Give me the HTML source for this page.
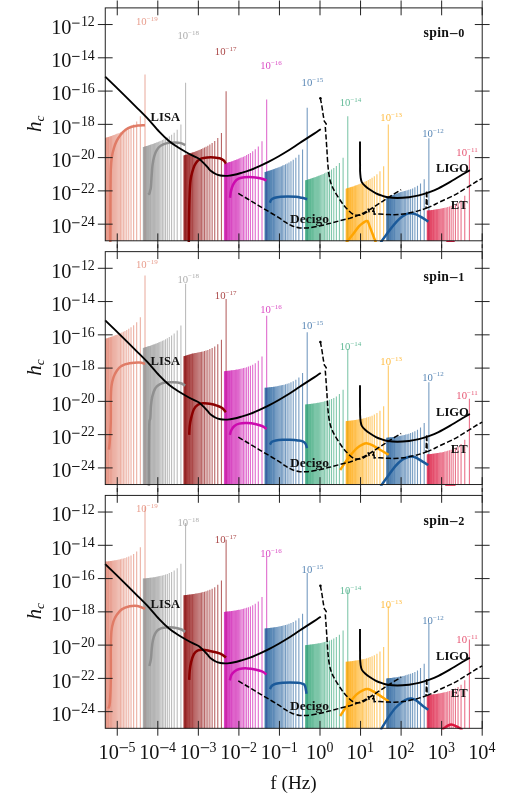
<!DOCTYPE html>
<html><head><meta charset="utf-8"><title>h_c vs f</title>
<style>
html,body{margin:0;padding:0;background:#fff;}
body{width:507px;height:800px;position:relative;overflow:hidden;font-family:"Liberation Serif",serif;}
svg text{font-family:"Liberation Serif",serif;}
#wrap{position:absolute;left:0;top:0;width:507px;height:800px;will-change:transform;transform:translateZ(0);}
.tl{font-size:20.3px;fill:#111;}
.sup{font-size:13.9px;fill:#111;}
.hc{font-size:21px;fill:#111;}
.sub{font-size:13.5px;}
.bl{font-size:10.7px;}
.bsup{font-size:7.0px;}
.nm{font-size:12.6px;font-weight:bold;fill:#111;}
.sp{font-size:13.7px;font-weight:bold;fill:#111;}
.xl{font-size:19.2px;fill:#111;}
</style></head><body>
<div id="wrap">
<svg width="507" height="800" viewBox="0 0 507 800" style="position:absolute;left:0;top:0">
<defs>
<clipPath id="c0"><rect x="105.25" y="7.9" width="376.95" height="232.9"/></clipPath>
<clipPath id="d0"><rect x="104.05" y="6.7" width="379.34999999999997" height="235.3"/></clipPath>
<clipPath id="c1"><rect x="105.25" y="251.65" width="376.95" height="232.9"/></clipPath>
<clipPath id="d1"><rect x="104.05" y="250.45000000000002" width="379.34999999999997" height="235.3"/></clipPath>
<clipPath id="c2"><rect x="105.25" y="495.4" width="376.95" height="232.9"/></clipPath>
<clipPath id="d2"><rect x="104.05" y="494.2" width="379.34999999999997" height="235.3"/></clipPath>
</defs>
<rect width="100%" height="100%" fill="#fff"/>
<g clip-path="url(#c0)">
<g stroke="#E07B66" stroke-opacity="0.6" stroke-width="1.1"><path d="M145.01 241.8V74.55"/><path d="M140.35 241.8V116.27"/><path d="M136.67 241.8V121.43"/><path d="M133.63 241.8V124.38"/><path d="M131.03 241.8V126.41"/><path d="M128.77 241.8V127.93"/><path d="M126.77 241.8V129.14"/><path d="M124.97 241.8V130.13"/><path d="M123.34 241.8V130.97"/><path d="M121.85 241.8V131.69"/><path d="M120.47 241.8V132.32"/><path d="M119.2 241.8V132.88"/><path d="M118.01 241.8V133.39"/><path d="M116.89 241.8V133.85"/><path d="M115.84 241.8V134.26"/><path d="M114.86 241.8V134.65"/><path d="M113.92 241.8V135.01"/><path d="M113.03 241.8V135.34"/><path d="M112.18 241.8V135.64"/><path d="M111.37 241.8V135.93"/><path d="M110.6 241.8V136.21"/><path d="M109.86 241.8V136.46"/><path d="M109.15 241.8V136.71"/><path d="M108.47 241.8V136.94"/><path d="M107.81 241.8V137.16"/><path d="M107.18 241.8V137.37"/><path d="M106.57 241.8V137.57"/><path d="M105.98 241.8V137.76"/><path d="M105.4 241.8V137.94"/><path d="M104.85 241.8V138.12"/><path d="M104.31 241.8V138.29"/><path d="M103.79 241.8V138.45"/><path d="M103.29 241.8V138.61"/><path d="M102.8 241.8V138.76"/></g>
<g stroke="#8f8f8f" stroke-opacity="0.6" stroke-width="1.1"><path d="M185.56 241.8V82.87"/><path d="M180.9 241.8V124.59"/><path d="M177.22 241.8V129.75"/><path d="M174.18 241.8V132.7"/><path d="M171.58 241.8V134.73"/><path d="M169.32 241.8V136.25"/><path d="M167.32 241.8V137.46"/><path d="M165.52 241.8V138.45"/><path d="M163.89 241.8V139.29"/><path d="M162.4 241.8V140.01"/><path d="M161.02 241.8V140.64"/><path d="M159.75 241.8V141.2"/><path d="M158.56 241.8V141.71"/><path d="M157.44 241.8V142.17"/><path d="M156.39 241.8V142.58"/><path d="M155.41 241.8V142.97"/><path d="M154.47 241.8V143.33"/><path d="M153.58 241.8V143.66"/><path d="M152.73 241.8V143.96"/><path d="M151.92 241.8V144.25"/><path d="M151.15 241.8V144.53"/><path d="M150.41 241.8V144.78"/><path d="M149.7 241.8V145.03"/><path d="M149.02 241.8V145.26"/><path d="M148.36 241.8V145.48"/><path d="M147.73 241.8V145.69"/><path d="M147.12 241.8V145.89"/><path d="M146.53 241.8V146.08"/><path d="M145.95 241.8V146.26"/><path d="M145.4 241.8V146.44"/><path d="M144.86 241.8V146.61"/><path d="M144.34 241.8V146.77"/><path d="M143.84 241.8V146.93"/><path d="M143.35 241.8V147.08"/></g>
<g stroke="#8B0000" stroke-opacity="0.6" stroke-width="1.1"><path d="M226.11 241.8V91.19"/><path d="M221.45 241.8V132.91"/><path d="M217.77 241.8V138.07"/><path d="M214.73 241.8V141.02"/><path d="M212.13 241.8V143.05"/><path d="M209.87 241.8V144.57"/><path d="M207.87 241.8V145.78"/><path d="M206.07 241.8V146.77"/><path d="M204.44 241.8V147.61"/><path d="M202.95 241.8V148.33"/><path d="M201.57 241.8V148.96"/><path d="M200.3 241.8V149.52"/><path d="M199.11 241.8V150.03"/><path d="M197.99 241.8V150.49"/><path d="M196.94 241.8V150.9"/><path d="M195.96 241.8V151.29"/><path d="M195.02 241.8V151.65"/><path d="M194.13 241.8V151.98"/><path d="M193.28 241.8V152.28"/><path d="M192.47 241.8V152.57"/><path d="M191.7 241.8V152.85"/><path d="M190.96 241.8V153.1"/><path d="M190.25 241.8V153.35"/><path d="M189.57 241.8V153.58"/><path d="M188.91 241.8V153.8"/><path d="M188.28 241.8V154.01"/><path d="M187.67 241.8V154.21"/><path d="M187.08 241.8V154.4"/><path d="M186.5 241.8V154.58"/><path d="M185.95 241.8V154.76"/><path d="M185.41 241.8V154.93"/><path d="M184.89 241.8V155.09"/><path d="M184.39 241.8V155.25"/><path d="M183.9 241.8V155.4"/></g>
<g stroke="#CC0AAE" stroke-opacity="0.6" stroke-width="1.1"><path d="M266.66 241.8V99.51"/><path d="M262 241.8V141.23"/><path d="M258.32 241.8V146.39"/><path d="M255.28 241.8V149.34"/><path d="M252.68 241.8V151.37"/><path d="M250.42 241.8V152.89"/><path d="M248.42 241.8V154.1"/><path d="M246.62 241.8V155.09"/><path d="M244.99 241.8V155.93"/><path d="M243.5 241.8V156.65"/><path d="M242.12 241.8V157.28"/><path d="M240.85 241.8V157.84"/><path d="M239.66 241.8V158.35"/><path d="M238.54 241.8V158.81"/><path d="M237.49 241.8V159.22"/><path d="M236.51 241.8V159.61"/><path d="M235.57 241.8V159.97"/><path d="M234.68 241.8V160.3"/><path d="M233.83 241.8V160.6"/><path d="M233.02 241.8V160.89"/><path d="M232.25 241.8V161.17"/><path d="M231.51 241.8V161.42"/><path d="M230.8 241.8V161.67"/><path d="M230.12 241.8V161.9"/><path d="M229.46 241.8V162.12"/><path d="M228.83 241.8V162.33"/><path d="M228.22 241.8V162.53"/><path d="M227.63 241.8V162.72"/><path d="M227.05 241.8V162.9"/><path d="M226.5 241.8V163.08"/><path d="M225.96 241.8V163.25"/><path d="M225.44 241.8V163.41"/><path d="M224.94 241.8V163.57"/><path d="M224.45 241.8V163.72"/></g>
<g stroke="#1B5A9A" stroke-opacity="0.6" stroke-width="1.1"><path d="M307.21 241.8V107.83"/><path d="M302.55 241.8V149.55"/><path d="M298.87 241.8V154.71"/><path d="M295.83 241.8V157.66"/><path d="M293.23 241.8V159.69"/><path d="M290.97 241.8V161.21"/><path d="M288.97 241.8V162.42"/><path d="M287.17 241.8V163.41"/><path d="M285.54 241.8V164.25"/><path d="M284.05 241.8V164.97"/><path d="M282.67 241.8V165.6"/><path d="M281.4 241.8V166.16"/><path d="M280.21 241.8V166.67"/><path d="M279.09 241.8V167.13"/><path d="M278.04 241.8V167.54"/><path d="M277.06 241.8V167.93"/><path d="M276.12 241.8V168.29"/><path d="M275.23 241.8V168.62"/><path d="M274.38 241.8V168.92"/><path d="M273.57 241.8V169.21"/><path d="M272.8 241.8V169.49"/><path d="M272.06 241.8V169.74"/><path d="M271.35 241.8V169.99"/><path d="M270.67 241.8V170.22"/><path d="M270.01 241.8V170.44"/><path d="M269.38 241.8V170.65"/><path d="M268.77 241.8V170.85"/><path d="M268.18 241.8V171.04"/><path d="M267.6 241.8V171.22"/><path d="M267.05 241.8V171.4"/><path d="M266.51 241.8V171.57"/><path d="M265.99 241.8V171.73"/><path d="M265.49 241.8V171.89"/><path d="M265 241.8V172.04"/></g>
<g stroke="#2EA374" stroke-opacity="0.6" stroke-width="1.1"><path d="M347.76 241.8V116.15"/><path d="M343.1 241.8V157.87"/><path d="M339.42 241.8V163.03"/><path d="M336.38 241.8V165.98"/><path d="M333.78 241.8V168.01"/><path d="M331.52 241.8V169.53"/><path d="M329.52 241.8V170.74"/><path d="M327.72 241.8V171.73"/><path d="M326.09 241.8V172.57"/><path d="M324.6 241.8V173.29"/><path d="M323.22 241.8V173.92"/><path d="M321.95 241.8V174.48"/><path d="M320.76 241.8V174.99"/><path d="M319.64 241.8V175.45"/><path d="M318.59 241.8V175.86"/><path d="M317.61 241.8V176.25"/><path d="M316.67 241.8V176.61"/><path d="M315.78 241.8V176.94"/><path d="M314.93 241.8V177.24"/><path d="M314.12 241.8V177.53"/><path d="M313.35 241.8V177.81"/><path d="M312.61 241.8V178.06"/><path d="M311.9 241.8V178.31"/><path d="M311.22 241.8V178.54"/><path d="M310.56 241.8V178.76"/><path d="M309.93 241.8V178.97"/><path d="M309.32 241.8V179.17"/><path d="M308.73 241.8V179.36"/><path d="M308.15 241.8V179.54"/><path d="M307.6 241.8V179.72"/><path d="M307.06 241.8V179.89"/><path d="M306.54 241.8V180.05"/><path d="M306.04 241.8V180.21"/><path d="M305.55 241.8V180.36"/></g>
<g stroke="#FFA500" stroke-opacity="0.6" stroke-width="1.1"><path d="M388.31 241.8V124.47"/><path d="M383.65 241.8V166.19"/><path d="M379.97 241.8V171.35"/><path d="M376.93 241.8V174.3"/><path d="M374.33 241.8V176.33"/><path d="M372.07 241.8V177.85"/><path d="M370.07 241.8V179.06"/><path d="M368.27 241.8V180.05"/><path d="M366.64 241.8V180.89"/><path d="M365.15 241.8V181.61"/><path d="M363.77 241.8V182.24"/><path d="M362.5 241.8V182.8"/><path d="M361.31 241.8V183.31"/><path d="M360.19 241.8V183.77"/><path d="M359.14 241.8V184.18"/><path d="M358.16 241.8V184.57"/><path d="M357.22 241.8V184.93"/><path d="M356.33 241.8V185.26"/><path d="M355.48 241.8V185.56"/><path d="M354.67 241.8V185.85"/><path d="M353.9 241.8V186.13"/><path d="M353.16 241.8V186.38"/><path d="M352.45 241.8V186.63"/><path d="M351.77 241.8V186.86"/><path d="M351.11 241.8V187.08"/><path d="M350.48 241.8V187.29"/><path d="M349.87 241.8V187.49"/><path d="M349.28 241.8V187.68"/><path d="M348.7 241.8V187.86"/><path d="M348.15 241.8V188.04"/><path d="M347.61 241.8V188.21"/><path d="M347.09 241.8V188.37"/><path d="M346.59 241.8V188.53"/><path d="M346.1 241.8V188.68"/></g>
<g stroke="#1B5A9A" stroke-opacity="0.6" stroke-width="1.1"><path d="M428.86 241.8V138.36"/><path d="M424.2 241.8V179.13"/><path d="M420.52 241.8V183.53"/><path d="M417.48 241.8V185.86"/><path d="M414.88 241.8V187.35"/><path d="M412.62 241.8V188.41"/><path d="M410.62 241.8V189.21"/><path d="M408.82 241.8V189.83"/><path d="M407.19 241.8V190.33"/><path d="M405.7 241.8V190.75"/><path d="M404.32 241.8V191.1"/><path d="M403.05 241.8V191.4"/><path d="M401.86 241.8V191.66"/><path d="M400.74 241.8V192.09"/><path d="M399.69 241.8V192.5"/><path d="M398.71 241.8V192.89"/><path d="M397.77 241.8V193.25"/><path d="M396.88 241.8V193.58"/><path d="M396.03 241.8V193.88"/><path d="M395.22 241.8V194.17"/><path d="M394.45 241.8V194.45"/><path d="M393.71 241.8V194.7"/><path d="M393 241.8V194.95"/><path d="M392.32 241.8V195.18"/><path d="M391.66 241.8V195.4"/><path d="M391.03 241.8V195.61"/><path d="M390.42 241.8V195.81"/><path d="M389.83 241.8V196"/><path d="M389.25 241.8V196.18"/><path d="M388.7 241.8V196.36"/><path d="M388.16 241.8V196.53"/><path d="M387.64 241.8V196.69"/><path d="M387.14 241.8V196.85"/><path d="M386.65 241.8V197"/></g>
<g stroke="#DC143C" stroke-opacity="0.6" stroke-width="1.1"><path d="M469.41 241.8V155"/><path d="M464.75 241.8V195.77"/><path d="M461.07 241.8V200.17"/><path d="M458.03 241.8V202.5"/><path d="M455.43 241.8V203.99"/><path d="M453.17 241.8V205.05"/><path d="M451.17 241.8V205.85"/><path d="M449.37 241.8V206.47"/><path d="M447.74 241.8V206.97"/><path d="M446.25 241.8V207.39"/><path d="M444.87 241.8V207.74"/><path d="M443.6 241.8V208.04"/><path d="M442.41 241.8V208.3"/><path d="M441.29 241.8V208.53"/><path d="M440.24 241.8V208.73"/><path d="M439.26 241.8V208.91"/><path d="M438.32 241.8V209.08"/><path d="M437.43 241.8V209.23"/><path d="M436.58 241.8V209.36"/><path d="M435.77 241.8V209.48"/><path d="M435 241.8V209.6"/><path d="M434.26 241.8V209.7"/><path d="M433.55 241.8V209.8"/><path d="M432.87 241.8V209.89"/><path d="M432.21 241.8V209.98"/><path d="M431.58 241.8V210.06"/><path d="M430.97 241.8V210.13"/><path d="M430.38 241.8V210.2"/><path d="M429.8 241.8V210.27"/><path d="M429.25 241.8V210.33"/><path d="M428.71 241.8V210.39"/><path d="M428.19 241.8V210.44"/><path d="M427.69 241.8V210.5"/><path d="M427.2 241.8V210.55"/></g>
</g>
<g clip-path="url(#d0)" fill="none" stroke-linecap="butt" stroke-linejoin="round">
<path d="M110.3 242.5C110.3 237.9 110.4 223.9 110.4 215.0C110.4 206.1 110.4 196.5 110.5 188.9C110.6 181.3 110.6 174.5 110.8 169.2C111.0 163.9 111.3 160.8 111.8 157.3C112.3 153.9 113.0 151.3 113.8 148.5C114.6 145.7 115.6 142.9 116.8 140.6C118.0 138.3 119.2 136.5 120.7 134.7C122.2 132.9 123.8 131.0 125.6 129.7C127.4 128.4 129.6 127.5 131.6 126.8C133.6 126.1 135.3 125.9 137.5 125.6C139.7 125.3 143.8 125.3 145.0 125.2" stroke="#E07B66" stroke-width="2.5"/>
<path d="M148.6 192.6C148.7 192.8 149.0 194.2 149.3 193.8C149.6 193.5 149.9 191.7 150.2 190.5C150.5 189.3 150.7 189.5 150.9 186.9C151.2 184.3 151.4 178.7 151.7 175.1C152.0 171.5 152.1 168.3 152.5 165.2C152.9 162.1 153.4 159.0 154.2 156.4C155.0 153.8 156.0 151.2 157.2 149.4C158.3 147.6 159.4 146.6 161.1 145.5C162.8 144.4 164.8 143.6 167.1 143.1C169.4 142.6 172.7 142.5 175.0 142.5C177.3 142.5 179.2 142.7 180.9 143.1C182.6 143.5 184.5 144.8 185.2 145.1" stroke="#8f8f8f" stroke-width="2.5"/>
<path d="M188.8 242.5C188.8 238.8 188.9 225.7 189.0 220.0C189.1 214.3 189.1 213.1 189.2 208.6C189.3 204.1 189.5 197.5 189.7 192.8C189.9 188.1 190.1 183.9 190.5 180.5C190.9 177.1 191.4 175.1 192.1 172.6C192.8 170.1 193.6 167.5 194.5 165.5C195.4 163.5 196.4 162.0 197.6 160.8C198.8 159.6 199.9 159.0 201.6 158.4C203.3 157.8 205.9 157.6 207.9 157.4C209.9 157.2 211.8 157.2 213.7 157.4C215.6 157.6 218.0 157.8 219.6 158.3C221.2 158.8 222.4 159.4 223.5 160.3C224.6 161.2 225.5 163.1 225.9 163.6" stroke="#8B0000" stroke-width="2.5"/>
<path d="M230.0 197.8C230.2 196.7 230.5 193.1 231.0 190.9C231.5 188.8 232.1 186.7 233.0 184.9C233.9 183.1 235.0 181.2 236.4 180.0C237.8 178.8 239.2 178.2 241.3 177.7C243.4 177.2 246.6 177.1 249.2 177.1C251.8 177.1 254.8 177.4 257.1 177.7C259.4 178.0 261.4 178.5 263.0 179.0C264.6 179.5 265.9 180.3 266.5 180.6" stroke="#CC0AAE" stroke-width="2.5"/>
<path d="M269.9 202.7C270.1 202.2 270.5 200.5 271.3 199.7C272.1 198.9 273.2 198.3 274.8 197.8C276.4 197.3 278.5 197.0 280.7 196.8C282.9 196.6 285.4 196.4 287.9 196.4C290.4 196.4 293.5 196.6 295.8 196.8C298.1 197.0 299.8 197.4 301.7 197.8C303.6 198.2 306.3 199.0 307.2 199.2" stroke="#1B5A9A" stroke-width="2.5"/>
<path d="M346.3 242.5C347.4 241.1 350.9 237.0 353.0 234.3C355.1 231.6 357.1 228.4 358.9 226.4C360.7 224.4 362.5 223.3 363.8 222.4C365.1 221.5 365.9 221.1 366.6 221.0C367.3 220.9 367.5 220.7 368.0 221.6C368.5 222.5 368.9 224.3 369.7 226.4C370.5 228.5 371.7 231.6 372.7 234.3C373.7 237.0 375.3 241.1 375.8 242.5" stroke="#FFA500" stroke-width="2.5"/>
<path d="M380.7 242.5C381.6 241.2 384.2 237.5 386.3 234.7C388.4 231.9 390.8 228.4 393.1 225.7C395.4 223.0 397.8 220.3 399.9 218.4C402.0 216.5 403.9 215.2 405.6 214.3C407.3 213.4 408.7 213.3 410.2 213.2C411.7 213.1 413.0 213.3 414.7 213.9C416.4 214.5 418.1 215.3 420.4 216.6C422.7 217.9 427.0 220.8 428.3 221.6" stroke="#1B5A9A" stroke-width="2.5"/>
<path d="M446.4 242.2C447.1 242.1 449.0 241.9 450.4 241.9C451.8 241.9 453.9 242.1 454.6 242.2" stroke="#DC143C" stroke-width="2.5"/>
</g>
<g transform="translate(0,0)" fill="none" stroke="#000">
<path d="M105.2 76.6C108.3 79.6 118.5 89.5 123.7 94.6C128.9 99.7 132.6 103.4 136.5 107.3C140.4 111.2 143.5 114.2 147.3 118.2C151.1 122.2 155.6 127.8 159.2 131.6C162.8 135.4 165.9 138.4 169.0 141.0C172.1 143.6 175.1 145.5 177.9 147.3C180.7 149.1 183.2 150.5 185.8 152.0C188.4 153.5 191.5 155.1 193.7 156.2C195.9 157.3 197.3 157.6 199.0 158.8C200.7 160.0 202.4 161.8 203.8 163.2C205.2 164.6 206.3 165.9 207.5 167.2C208.7 168.5 209.6 169.9 211.0 171.0C212.4 172.1 214.1 173.2 215.7 174.0C217.3 174.8 218.9 175.2 220.5 175.5C222.1 175.8 223.7 175.9 225.2 175.9C226.7 175.9 228.1 175.8 229.4 175.6C230.7 175.4 231.2 175.4 233.1 175.0C235.0 174.6 238.2 173.8 241.0 173.0C243.8 172.2 247.0 171.3 250.0 170.2C253.0 169.1 255.8 167.7 259.0 166.3C262.1 164.9 265.6 163.3 268.9 161.6C272.2 159.9 275.3 158.2 278.8 156.2C282.3 154.2 286.5 151.7 290.0 149.5C293.5 147.3 294.6 146.4 299.7 143.0C304.8 139.6 317.3 131.6 320.8 129.3" stroke-width="1.9"/>
<path d="M360.0 141.4C360.0 143.7 360.0 151.1 360.0 155.0C360.0 158.9 360.0 162.3 360.1 165.0C360.1 167.7 360.0 169.3 360.1 171.4C360.2 173.5 360.4 175.5 360.6 177.3C360.9 179.1 361.0 180.6 361.8 182.1C362.6 183.6 364.0 184.9 365.4 186.2C366.8 187.5 368.3 188.6 370.1 189.8C371.9 191.0 374.0 192.3 376.0 193.3C378.0 194.3 380.0 195.0 382.0 195.7C384.0 196.4 385.3 196.9 387.9 197.3C390.4 197.7 393.8 198.0 397.3 198.0C400.8 198.0 405.4 197.6 409.0 197.2C412.6 196.8 415.6 196.2 418.9 195.4C422.2 194.6 425.5 193.5 428.8 192.3C432.1 191.1 435.0 190.0 438.5 188.3C442.0 186.6 446.0 184.3 449.8 182.1C453.6 179.9 457.9 177.3 461.2 175.3C464.5 173.3 468.4 171.0 469.8 170.1" stroke-width="1.9"/>
<path d="M238.3 193.4C240.1 194.5 245.8 197.8 249.2 199.9C252.6 202.0 255.7 203.8 259.0 205.8C262.3 207.8 265.6 209.7 268.9 211.7C272.2 213.7 276.0 215.9 278.8 217.7C281.6 219.5 283.7 221.1 285.9 222.4C288.1 223.8 289.5 224.9 291.8 225.8C294.1 226.7 297.1 227.6 299.7 227.9C302.3 228.2 304.3 228.2 307.6 227.9C310.9 227.6 315.8 226.7 319.4 226.0C323.0 225.3 326.0 224.4 329.3 223.6C332.6 222.8 335.8 221.8 339.2 220.9C342.6 220.0 346.5 219.2 349.9 218.2C353.3 217.1 356.4 216.0 359.7 214.6C363.0 213.2 366.3 211.5 369.6 209.6C372.9 207.7 376.1 205.5 379.4 203.4C382.7 201.3 385.7 199.2 389.3 196.9C392.9 194.6 399.1 190.9 401.1 189.7" stroke-width="1.5" stroke-dasharray="5.2 2.3"/>
<path d="M320.4 98.0C320.6 99.4 321.4 103.5 321.9 106.3C322.4 109.1 322.8 112.5 323.2 115.0C323.6 117.5 324.1 120.2 324.3 121.2L324.3 121.2L326.2 123.9L325.3 127.0L325.3 127.0C325.4 128.1 325.5 130.0 325.8 133.7C326.1 137.4 326.5 144.2 326.9 149.4C327.2 154.7 327.5 160.8 327.9 165.2C328.3 169.5 328.6 172.4 329.1 175.5C329.7 178.6 330.2 181.2 331.2 184.0C332.2 186.8 333.2 188.8 335.0 192.0C336.8 195.2 340.0 200.0 342.1 203.0C344.2 206.0 345.9 207.9 347.9 209.8C349.8 211.7 351.8 213.7 353.8 214.6C355.8 215.5 358.1 215.4 359.7 215.3C361.3 215.2 362.2 214.6 363.5 214.0C364.8 213.4 366.9 212.0 367.6 211.6L367.6 211.6L368.3 208.6L369.0 211.6L373.4 211.0L373.9 207.9L374.2 214.2L374.2 214.2C375.1 214.2 376.9 213.9 379.4 214.0C381.9 214.1 386.0 214.5 389.3 214.6C392.6 214.7 395.9 214.8 399.2 214.5C402.5 214.2 405.7 213.8 409.0 213.1C412.3 212.4 416.1 211.4 418.9 210.6C421.7 209.8 424.8 208.8 426.0 208.4L426.0 208.4L426.7 190.8L427.2 207.9L427.2 207.9C428.1 207.5 430.6 206.6 432.7 205.6C434.8 204.6 436.4 203.6 440.0 201.8C443.6 200.1 450.1 197.3 454.4 195.1C458.7 192.8 462.3 190.4 465.7 188.3C469.1 186.2 472.1 184.3 474.8 182.6C477.6 180.9 481.0 179.0 482.2 178.3" stroke-width="1.5" stroke-dasharray="5.2 2.3"/>
<circle cx="320.4" cy="98.3" r="1.25" fill="#000" stroke="none"/>
</g>
<rect x="105.25" y="7.9" width="376.95" height="232.9" fill="none" stroke="#161616" stroke-width="0.95"/>
<path d="M117.25 0.5v14.8M117.25 233.4v14.8M157.8 0.5v14.8M157.8 233.4v14.8M198.35 0.5v14.8M198.35 233.4v14.8M238.9 0.5v14.8M238.9 233.4v14.8M279.45 0.5v14.8M279.45 233.4v14.8M320 0.5v14.8M320 233.4v14.8M360.55 0.5v14.8M360.55 233.4v14.8M401.1 0.5v14.8M401.1 233.4v14.8M441.65 0.5v14.8M441.65 233.4v14.8M482.2 0.5v14.8M482.2 233.4v14.8M97.85 224.16h14.8M474.8 224.16h14.8M97.85 190.89h14.8M474.8 190.89h14.8M97.85 157.62h14.8M474.8 157.62h14.8M97.85 124.35h14.8M474.8 124.35h14.8M97.85 91.08h14.8M474.8 91.08h14.8M97.85 57.81h14.8M474.8 57.81h14.8M97.85 24.54h14.8M474.8 24.54h14.8" stroke="#161616" stroke-width="0.95" fill="none"/>
<text x="71.5" y="233.46" text-anchor="end" class="tl">10</text><path d="M72.1 222.76H79.6" stroke="#111" stroke-width="0.95"/><text x="94.8" y="225.96" text-anchor="end" class="sup">24</text>
<text x="71.5" y="200.19" text-anchor="end" class="tl">10</text><path d="M72.1 189.49H79.6" stroke="#111" stroke-width="0.95"/><text x="94.8" y="192.69" text-anchor="end" class="sup">22</text>
<text x="71.5" y="166.92" text-anchor="end" class="tl">10</text><path d="M72.1 156.22H79.6" stroke="#111" stroke-width="0.95"/><text x="94.8" y="159.42" text-anchor="end" class="sup">20</text>
<text x="71.5" y="133.65" text-anchor="end" class="tl">10</text><path d="M72.1 122.95H79.6" stroke="#111" stroke-width="0.95"/><text x="94.8" y="126.15" text-anchor="end" class="sup">18</text>
<text x="71.5" y="100.38" text-anchor="end" class="tl">10</text><path d="M72.1 89.68H79.6" stroke="#111" stroke-width="0.95"/><text x="94.8" y="92.88" text-anchor="end" class="sup">16</text>
<text x="71.5" y="67.11" text-anchor="end" class="tl">10</text><path d="M72.1 56.41H79.6" stroke="#111" stroke-width="0.95"/><text x="94.8" y="59.61" text-anchor="end" class="sup">14</text>
<text x="71.5" y="33.84" text-anchor="end" class="tl">10</text><path d="M72.1 23.14H79.6" stroke="#111" stroke-width="0.95"/><text x="94.8" y="26.34" text-anchor="end" class="sup">12</text>
<text transform="translate(40.8,123.85) rotate(-90)" text-anchor="middle" class="hc"><tspan font-style="italic">h</tspan><tspan class="sub" dy="3" font-style="italic">c</tspan></text>
<text x="136.0" y="24.6" class="bl" fill="#E07B66" fill-opacity="0.75">10<tspan class="bsup" dy="-4.1">−19</tspan></text>
<text x="177.4" y="38.8" class="bl" fill="#8f8f8f" fill-opacity="0.75">10<tspan class="bsup" dy="-4.1">−18</tspan></text>
<text x="214.8" y="55.3" class="bl" fill="#8B0000" fill-opacity="0.75">10<tspan class="bsup" dy="-4.1">−17</tspan></text>
<text x="260.2" y="69.1" class="bl" fill="#CC0AAE" fill-opacity="0.75">10<tspan class="bsup" dy="-4.1">−16</tspan></text>
<text x="301.6" y="85.7" class="bl" fill="#1B5A9A" fill-opacity="0.75">10<tspan class="bsup" dy="-4.1">−15</tspan></text>
<text x="339.7" y="106.3" class="bl" fill="#2EA374" fill-opacity="0.75">10<tspan class="bsup" dy="-4.1">−14</tspan></text>
<text x="380.3" y="120.9" class="bl" fill="#FFA500" fill-opacity="0.75">10<tspan class="bsup" dy="-4.1">−13</tspan></text>
<text x="422.2" y="136.8" class="bl" fill="#1B5A9A" fill-opacity="0.75">10<tspan class="bsup" dy="-4.1">−12</tspan></text>
<text x="456.3" y="155.6" class="bl" fill="#DC143C" fill-opacity="0.75">10<tspan class="bsup" dy="-4.1">−11</tspan></text>
<text x="150.6" y="120.8" class="nm">LISA</text>
<text x="290.0" y="222.8" class="nm" style="font-size:13.5px">Decigo</text>
<text x="436.0" y="172.4" class="nm">LIGO</text>
<text x="450.8" y="209.1" class="nm">ET</text>
<text x="423.6" y="37.1" class="sp"><tspan letter-spacing="0.3">spin</tspan><tspan dx="0.8" style="font-size:15px">–</tspan><tspan dx="0.9" style="font-size:12.2px">0</tspan></text>
<g clip-path="url(#c1)">
<g stroke="#E07B66" stroke-opacity="0.6" stroke-width="1.1"><path d="M145.01 485.55V275.4"/><path d="M140.35 485.55V317.13"/><path d="M136.67 485.55V322.28"/><path d="M133.63 485.55V325.24"/><path d="M131.03 485.55V327.26"/><path d="M128.77 485.55V328.79"/><path d="M126.77 485.55V329.99"/><path d="M124.97 485.55V330.98"/><path d="M123.34 485.55V331.82"/><path d="M121.85 485.55V332.54"/><path d="M120.47 485.55V333.18"/><path d="M119.2 485.55V333.74"/><path d="M118.01 485.55V334.24"/><path d="M116.89 485.55V334.7"/><path d="M115.84 485.55V335.12"/><path d="M114.86 485.55V335.5"/><path d="M113.92 485.55V335.86"/><path d="M113.03 485.55V336.19"/><path d="M112.18 485.55V336.5"/><path d="M111.37 485.55V336.79"/><path d="M110.6 485.55V337.06"/><path d="M109.86 485.55V337.32"/><path d="M109.15 485.55V337.56"/><path d="M108.47 485.55V337.79"/><path d="M107.81 485.55V338.01"/><path d="M107.18 485.55V338.22"/><path d="M106.57 485.55V338.42"/><path d="M105.98 485.55V338.61"/><path d="M105.4 485.55V338.8"/><path d="M104.85 485.55V338.97"/><path d="M104.31 485.55V339.14"/><path d="M103.79 485.55V339.31"/><path d="M103.29 485.55V339.46"/><path d="M102.8 485.55V339.61"/></g>
<g stroke="#8f8f8f" stroke-opacity="0.6" stroke-width="1.1"><path d="M185.56 485.55V283.72"/><path d="M180.9 485.55V325.45"/><path d="M177.22 485.55V330.6"/><path d="M174.18 485.55V333.56"/><path d="M171.58 485.55V335.58"/><path d="M169.32 485.55V337.11"/><path d="M167.32 485.55V338.31"/><path d="M165.52 485.55V339.3"/><path d="M163.89 485.55V340.14"/><path d="M162.4 485.55V340.86"/><path d="M161.02 485.55V341.5"/><path d="M159.75 485.55V342.06"/><path d="M158.56 485.55V342.56"/><path d="M157.44 485.55V343.02"/><path d="M156.39 485.55V343.44"/><path d="M155.41 485.55V343.82"/><path d="M154.47 485.55V344.18"/><path d="M153.58 485.55V344.51"/><path d="M152.73 485.55V344.82"/><path d="M151.92 485.55V345.11"/><path d="M151.15 485.55V345.38"/><path d="M150.41 485.55V345.64"/><path d="M149.7 485.55V345.88"/><path d="M149.02 485.55V346.11"/><path d="M148.36 485.55V346.33"/><path d="M147.73 485.55V346.54"/><path d="M147.12 485.55V346.74"/><path d="M146.53 485.55V346.93"/><path d="M145.95 485.55V347.12"/><path d="M145.4 485.55V347.29"/><path d="M144.86 485.55V347.46"/><path d="M144.34 485.55V347.63"/><path d="M143.84 485.55V347.78"/><path d="M143.35 485.55V347.93"/></g>
<g stroke="#8B0000" stroke-opacity="0.6" stroke-width="1.1"><path d="M226.11 485.55V299.03"/><path d="M221.45 485.55V339.8"/><path d="M217.77 485.55V344.2"/><path d="M214.73 485.55V346.53"/><path d="M212.13 485.55V348.02"/><path d="M209.87 485.55V349.08"/><path d="M207.87 485.55V349.88"/><path d="M206.07 485.55V350.5"/><path d="M204.44 485.55V351"/><path d="M202.95 485.55V351.42"/><path d="M201.57 485.55V351.77"/><path d="M200.3 485.55V352.07"/><path d="M199.11 485.55V352.33"/><path d="M197.99 485.55V352.56"/><path d="M196.94 485.55V352.76"/><path d="M195.96 485.55V352.94"/><path d="M195.02 485.55V353.11"/><path d="M194.13 485.55V353.26"/><path d="M193.28 485.55V353.39"/><path d="M192.47 485.55V353.51"/><path d="M191.7 485.55V353.7"/><path d="M190.96 485.55V353.96"/><path d="M190.25 485.55V354.2"/><path d="M189.57 485.55V354.43"/><path d="M188.91 485.55V354.65"/><path d="M188.28 485.55V354.86"/><path d="M187.67 485.55V355.06"/><path d="M187.08 485.55V355.25"/><path d="M186.5 485.55V355.44"/><path d="M185.95 485.55V355.61"/><path d="M185.41 485.55V355.78"/><path d="M184.89 485.55V355.95"/><path d="M184.39 485.55V356.1"/><path d="M183.9 485.55V356.25"/></g>
<g stroke="#CC0AAE" stroke-opacity="0.6" stroke-width="1.1"><path d="M266.66 485.55V315.67"/><path d="M262 485.55V356.44"/><path d="M258.32 485.55V360.84"/><path d="M255.28 485.55V363.17"/><path d="M252.68 485.55V364.66"/><path d="M250.42 485.55V365.72"/><path d="M248.42 485.55V366.52"/><path d="M246.62 485.55V367.14"/><path d="M244.99 485.55V367.64"/><path d="M243.5 485.55V368.06"/><path d="M242.12 485.55V368.41"/><path d="M240.85 485.55V368.71"/><path d="M239.66 485.55V368.97"/><path d="M238.54 485.55V369.2"/><path d="M237.49 485.55V369.4"/><path d="M236.51 485.55V369.58"/><path d="M235.57 485.55V369.75"/><path d="M234.68 485.55V369.9"/><path d="M233.83 485.55V370.03"/><path d="M233.02 485.55V370.15"/><path d="M232.25 485.55V370.27"/><path d="M231.51 485.55V370.37"/><path d="M230.8 485.55V370.47"/><path d="M230.12 485.55V370.56"/><path d="M229.46 485.55V370.65"/><path d="M228.83 485.55V370.73"/><path d="M228.22 485.55V370.8"/><path d="M227.63 485.55V370.87"/><path d="M227.05 485.55V370.94"/><path d="M226.5 485.55V371"/><path d="M225.96 485.55V371.06"/><path d="M225.44 485.55V371.11"/><path d="M224.94 485.55V371.17"/><path d="M224.45 485.55V371.22"/></g>
<g stroke="#1B5A9A" stroke-opacity="0.6" stroke-width="1.1"><path d="M307.21 485.55V332.31"/><path d="M302.55 485.55V373.08"/><path d="M298.87 485.55V377.48"/><path d="M295.83 485.55V379.81"/><path d="M293.23 485.55V381.3"/><path d="M290.97 485.55V382.36"/><path d="M288.97 485.55V383.16"/><path d="M287.17 485.55V383.78"/><path d="M285.54 485.55V384.28"/><path d="M284.05 485.55V384.7"/><path d="M282.67 485.55V385.05"/><path d="M281.4 485.55V385.35"/><path d="M280.21 485.55V385.61"/><path d="M279.09 485.55V385.84"/><path d="M278.04 485.55V386.04"/><path d="M277.06 485.55V386.22"/><path d="M276.12 485.55V386.39"/><path d="M275.23 485.55V386.54"/><path d="M274.38 485.55V386.67"/><path d="M273.57 485.55V386.79"/><path d="M272.8 485.55V386.91"/><path d="M272.06 485.55V387.01"/><path d="M271.35 485.55V387.11"/><path d="M270.67 485.55V387.2"/><path d="M270.01 485.55V387.29"/><path d="M269.38 485.55V387.37"/><path d="M268.77 485.55V387.44"/><path d="M268.18 485.55V387.51"/><path d="M267.6 485.55V387.58"/><path d="M267.05 485.55V387.64"/><path d="M266.51 485.55V387.7"/><path d="M265.99 485.55V387.75"/><path d="M265.49 485.55V387.81"/><path d="M265 485.55V387.86"/></g>
<g stroke="#2EA374" stroke-opacity="0.6" stroke-width="1.1"><path d="M347.76 485.55V348.95"/><path d="M343.1 485.55V389.72"/><path d="M339.42 485.55V394.12"/><path d="M336.38 485.55V396.45"/><path d="M333.78 485.55V397.94"/><path d="M331.52 485.55V399"/><path d="M329.52 485.55V399.8"/><path d="M327.72 485.55V400.42"/><path d="M326.09 485.55V400.92"/><path d="M324.6 485.55V401.34"/><path d="M323.22 485.55V401.69"/><path d="M321.95 485.55V401.99"/><path d="M320.76 485.55V402.25"/><path d="M319.64 485.55V402.48"/><path d="M318.59 485.55V402.68"/><path d="M317.61 485.55V402.86"/><path d="M316.67 485.55V403.03"/><path d="M315.78 485.55V403.18"/><path d="M314.93 485.55V403.31"/><path d="M314.12 485.55V403.43"/><path d="M313.35 485.55V403.55"/><path d="M312.61 485.55V403.65"/><path d="M311.9 485.55V403.75"/><path d="M311.22 485.55V403.84"/><path d="M310.56 485.55V403.93"/><path d="M309.93 485.55V404.01"/><path d="M309.32 485.55V404.08"/><path d="M308.73 485.55V404.15"/><path d="M308.15 485.55V404.22"/><path d="M307.6 485.55V404.28"/><path d="M307.06 485.55V404.34"/><path d="M306.54 485.55V404.39"/><path d="M306.04 485.55V404.45"/><path d="M305.55 485.55V404.5"/></g>
<g stroke="#FFA500" stroke-opacity="0.6" stroke-width="1.1"><path d="M388.31 485.55V365.59"/><path d="M383.65 485.55V406.36"/><path d="M379.97 485.55V410.76"/><path d="M376.93 485.55V413.09"/><path d="M374.33 485.55V414.58"/><path d="M372.07 485.55V415.64"/><path d="M370.07 485.55V416.44"/><path d="M368.27 485.55V417.06"/><path d="M366.64 485.55V417.56"/><path d="M365.15 485.55V417.98"/><path d="M363.77 485.55V418.33"/><path d="M362.5 485.55V418.63"/><path d="M361.31 485.55V418.89"/><path d="M360.19 485.55V419.12"/><path d="M359.14 485.55V419.32"/><path d="M358.16 485.55V419.5"/><path d="M357.22 485.55V419.67"/><path d="M356.33 485.55V419.82"/><path d="M355.48 485.55V419.95"/><path d="M354.67 485.55V420.07"/><path d="M353.9 485.55V420.19"/><path d="M353.16 485.55V420.29"/><path d="M352.45 485.55V420.39"/><path d="M351.77 485.55V420.48"/><path d="M351.11 485.55V420.57"/><path d="M350.48 485.55V420.65"/><path d="M349.87 485.55V420.72"/><path d="M349.28 485.55V420.79"/><path d="M348.7 485.55V420.86"/><path d="M348.15 485.55V420.92"/><path d="M347.61 485.55V420.98"/><path d="M347.09 485.55V421.03"/><path d="M346.59 485.55V421.09"/><path d="M346.1 485.55V421.14"/></g>
<g stroke="#1B5A9A" stroke-opacity="0.6" stroke-width="1.1"><path d="M428.86 485.55V382.23"/><path d="M424.2 485.55V423"/><path d="M420.52 485.55V427.4"/><path d="M417.48 485.55V429.73"/><path d="M414.88 485.55V431.22"/><path d="M412.62 485.55V432.28"/><path d="M410.62 485.55V433.08"/><path d="M408.82 485.55V433.7"/><path d="M407.19 485.55V434.2"/><path d="M405.7 485.55V434.62"/><path d="M404.32 485.55V434.97"/><path d="M403.05 485.55V435.27"/><path d="M401.86 485.55V435.53"/><path d="M400.74 485.55V435.76"/><path d="M399.69 485.55V435.96"/><path d="M398.71 485.55V436.14"/><path d="M397.77 485.55V436.31"/><path d="M396.88 485.55V436.46"/><path d="M396.03 485.55V436.59"/><path d="M395.22 485.55V436.71"/><path d="M394.45 485.55V436.83"/><path d="M393.71 485.55V436.93"/><path d="M393 485.55V437.03"/><path d="M392.32 485.55V437.12"/><path d="M391.66 485.55V437.21"/><path d="M391.03 485.55V437.29"/><path d="M390.42 485.55V437.36"/><path d="M389.83 485.55V437.43"/><path d="M389.25 485.55V437.5"/><path d="M388.7 485.55V437.56"/><path d="M388.16 485.55V437.62"/><path d="M387.64 485.55V437.67"/><path d="M387.14 485.55V437.73"/><path d="M386.65 485.55V437.78"/></g>
<g stroke="#DC143C" stroke-opacity="0.6" stroke-width="1.1"><path d="M469.41 485.55V398.87"/><path d="M464.75 485.55V439.64"/><path d="M461.07 485.55V444.04"/><path d="M458.03 485.55V446.37"/><path d="M455.43 485.55V447.86"/><path d="M453.17 485.55V448.92"/><path d="M451.17 485.55V449.72"/><path d="M449.37 485.55V450.34"/><path d="M447.74 485.55V450.84"/><path d="M446.25 485.55V451.26"/><path d="M444.87 485.55V451.61"/><path d="M443.6 485.55V451.91"/><path d="M442.41 485.55V452.17"/><path d="M441.29 485.55V452.4"/><path d="M440.24 485.55V452.6"/><path d="M439.26 485.55V452.78"/><path d="M438.32 485.55V452.95"/><path d="M437.43 485.55V453.1"/><path d="M436.58 485.55V453.23"/><path d="M435.77 485.55V453.35"/><path d="M435 485.55V453.47"/><path d="M434.26 485.55V453.57"/><path d="M433.55 485.55V453.67"/><path d="M432.87 485.55V453.76"/><path d="M432.21 485.55V453.85"/><path d="M431.58 485.55V453.93"/><path d="M430.97 485.55V454"/><path d="M430.38 485.55V454.07"/><path d="M429.8 485.55V454.14"/><path d="M429.25 485.55V454.2"/><path d="M428.71 485.55V454.26"/><path d="M428.19 485.55V454.31"/><path d="M427.69 485.55V454.37"/><path d="M427.2 485.55V454.42"/></g>
</g>
<g clip-path="url(#d1)" fill="none" stroke-linecap="butt" stroke-linejoin="round">
<path d="M108.9 449.7C109.1 448.1 109.6 444.7 109.9 439.8C110.2 434.9 110.7 427.0 110.8 420.1C110.9 413.2 110.7 404.0 110.8 398.4C110.9 392.8 111.0 390.1 111.4 386.6C111.8 383.2 112.5 380.3 113.4 377.7C114.3 375.1 115.4 372.8 116.8 370.8C118.2 368.8 119.6 367.1 121.7 365.8C123.8 364.6 126.6 363.9 129.6 363.3C132.5 362.8 136.8 362.4 139.4 362.5C142.0 362.6 144.1 363.7 145.0 363.9" stroke="#E07B66" stroke-width="2.5"/>
<path d="M148.9 486.2C148.9 480.8 148.8 464.0 148.9 453.6C149.0 443.2 149.1 429.9 149.3 424.0C149.5 418.1 150.0 421.1 150.3 418.1C150.6 415.2 150.6 409.9 150.9 406.3C151.2 402.7 151.6 399.4 152.3 396.4C153.0 393.4 154.0 390.5 155.2 388.5C156.3 386.5 157.5 385.6 159.2 384.6C160.8 383.6 162.8 383.0 165.1 382.6C167.4 382.2 170.4 382.1 173.0 382.2C175.6 382.3 178.9 382.6 180.9 383.2C182.9 383.8 184.5 385.2 185.2 385.6" stroke="#8f8f8f" stroke-width="2.5"/>
<path d="M189.2 434.9C189.3 433.4 189.4 428.8 189.7 426.0C190.0 423.2 190.4 420.9 191.1 418.1C191.8 415.3 192.8 411.4 193.9 409.2C195.0 407.0 196.4 405.7 197.9 404.7C199.4 403.7 200.8 403.5 202.8 403.3C204.8 403.1 207.2 403.3 209.7 403.7C212.2 404.1 215.5 405.1 217.6 405.9C219.7 406.7 221.1 407.2 222.5 408.3C223.9 409.4 225.3 411.6 225.9 412.2" stroke="#8B0000" stroke-width="2.5"/>
<path d="M229.8 434.9C230.1 434.1 230.6 431.5 231.4 430.0C232.2 428.5 233.1 427.1 234.4 426.0C235.7 424.9 237.2 424.1 239.3 423.6C241.4 423.1 244.6 423.0 247.2 423.1C249.8 423.2 252.6 423.5 255.1 424.0C257.6 424.5 260.1 425.2 262.0 426.0C263.9 426.8 265.8 428.5 266.5 429.0" stroke="#CC0AAE" stroke-width="2.5"/>
<path d="M269.9 444.7C270.2 444.2 270.9 442.5 271.9 441.8C272.9 441.1 274.0 440.7 275.8 440.4C277.6 440.1 280.4 439.9 282.7 439.8C285.0 439.7 287.4 439.7 289.9 439.8C292.4 439.9 295.7 440.1 297.8 440.4C299.9 440.7 301.4 440.8 302.7 441.4C304.0 442.0 304.9 442.7 305.6 443.8C306.3 444.9 306.8 447.4 307.0 448.1" stroke="#1B5A9A" stroke-width="2.5"/>
<path d="M340.2 470.0C341.0 468.8 343.3 465.1 345.1 462.5C346.9 459.9 349.0 457.0 351.0 454.6C353.0 452.2 354.9 449.8 356.9 448.1C358.9 446.4 361.1 445.1 362.8 444.3C364.6 443.5 365.8 443.2 367.4 443.4C369.0 443.6 370.6 444.2 372.7 445.3C374.8 446.4 377.4 448.1 380.0 449.7C382.6 451.3 387.2 453.9 388.6 454.8" stroke="#FFA500" stroke-width="2.5"/>
<path d="M380.7 486.2C382.0 484.4 386.2 478.5 388.6 475.2C391.1 471.9 393.1 468.7 395.4 466.1C397.7 463.5 400.1 461.3 402.2 459.8C404.3 458.3 406.4 457.7 407.9 457.1C409.4 456.5 410.0 456.3 411.3 456.4C412.6 456.5 413.9 456.6 415.8 457.5C417.7 458.4 420.5 460.4 422.6 461.6C424.7 462.9 427.4 464.4 428.3 465.0" stroke="#1B5A9A" stroke-width="2.5"/>
<path d="M445.3 486.0C446.1 485.9 448.7 485.7 450.4 485.7C452.1 485.7 454.6 485.9 455.5 486.0" stroke="#DC143C" stroke-width="2.5"/>
</g>
<g transform="translate(0,243.75)" fill="none" stroke="#000">
<path d="M105.2 76.6C108.3 79.6 118.5 89.5 123.7 94.6C128.9 99.7 132.6 103.4 136.5 107.3C140.4 111.2 143.5 114.2 147.3 118.2C151.1 122.2 155.6 127.8 159.2 131.6C162.8 135.4 165.9 138.4 169.0 141.0C172.1 143.6 175.1 145.5 177.9 147.3C180.7 149.1 183.2 150.5 185.8 152.0C188.4 153.5 191.5 155.1 193.7 156.2C195.9 157.3 197.3 157.6 199.0 158.8C200.7 160.0 202.4 161.8 203.8 163.2C205.2 164.6 206.3 165.9 207.5 167.2C208.7 168.5 209.6 169.9 211.0 171.0C212.4 172.1 214.1 173.2 215.7 174.0C217.3 174.8 218.9 175.2 220.5 175.5C222.1 175.8 223.7 175.9 225.2 175.9C226.7 175.9 228.1 175.8 229.4 175.6C230.7 175.4 231.2 175.4 233.1 175.0C235.0 174.6 238.2 173.8 241.0 173.0C243.8 172.2 247.0 171.3 250.0 170.2C253.0 169.1 255.8 167.7 259.0 166.3C262.1 164.9 265.6 163.3 268.9 161.6C272.2 159.9 275.3 158.2 278.8 156.2C282.3 154.2 286.5 151.7 290.0 149.5C293.5 147.3 294.6 146.4 299.7 143.0C304.8 139.6 317.3 131.6 320.8 129.3" stroke-width="1.9"/>
<path d="M360.0 141.4C360.0 143.7 360.0 151.1 360.0 155.0C360.0 158.9 360.0 162.3 360.1 165.0C360.1 167.7 360.0 169.3 360.1 171.4C360.2 173.5 360.4 175.5 360.6 177.3C360.9 179.1 361.0 180.6 361.8 182.1C362.6 183.6 364.0 184.9 365.4 186.2C366.8 187.5 368.3 188.6 370.1 189.8C371.9 191.0 374.0 192.3 376.0 193.3C378.0 194.3 380.0 195.0 382.0 195.7C384.0 196.4 385.3 196.9 387.9 197.3C390.4 197.7 393.8 198.0 397.3 198.0C400.8 198.0 405.4 197.6 409.0 197.2C412.6 196.8 415.6 196.2 418.9 195.4C422.2 194.6 425.5 193.5 428.8 192.3C432.1 191.1 435.0 190.0 438.5 188.3C442.0 186.6 446.0 184.3 449.8 182.1C453.6 179.9 457.9 177.3 461.2 175.3C464.5 173.3 468.4 171.0 469.8 170.1" stroke-width="1.9"/>
<path d="M238.3 193.4C240.1 194.5 245.8 197.8 249.2 199.9C252.6 202.0 255.7 203.8 259.0 205.8C262.3 207.8 265.6 209.7 268.9 211.7C272.2 213.7 276.0 215.9 278.8 217.7C281.6 219.5 283.7 221.1 285.9 222.4C288.1 223.8 289.5 224.9 291.8 225.8C294.1 226.7 297.1 227.6 299.7 227.9C302.3 228.2 304.3 228.2 307.6 227.9C310.9 227.6 315.8 226.7 319.4 226.0C323.0 225.3 326.0 224.4 329.3 223.6C332.6 222.8 335.8 221.8 339.2 220.9C342.6 220.0 346.5 219.2 349.9 218.2C353.3 217.1 356.4 216.0 359.7 214.6C363.0 213.2 366.3 211.5 369.6 209.6C372.9 207.7 376.1 205.5 379.4 203.4C382.7 201.3 385.7 199.2 389.3 196.9C392.9 194.6 399.1 190.9 401.1 189.7" stroke-width="1.5" stroke-dasharray="5.2 2.3"/>
<path d="M320.4 98.0C320.6 99.4 321.4 103.5 321.9 106.3C322.4 109.1 322.8 112.5 323.2 115.0C323.6 117.5 324.1 120.2 324.3 121.2L324.3 121.2L326.2 123.9L325.3 127.0L325.3 127.0C325.4 128.1 325.5 130.0 325.8 133.7C326.1 137.4 326.5 144.2 326.9 149.4C327.2 154.7 327.5 160.8 327.9 165.2C328.3 169.5 328.6 172.4 329.1 175.5C329.7 178.6 330.2 181.2 331.2 184.0C332.2 186.8 333.2 188.8 335.0 192.0C336.8 195.2 340.0 200.0 342.1 203.0C344.2 206.0 345.9 207.9 347.9 209.8C349.8 211.7 351.8 213.7 353.8 214.6C355.8 215.5 358.1 215.4 359.7 215.3C361.3 215.2 362.2 214.6 363.5 214.0C364.8 213.4 366.9 212.0 367.6 211.6L367.6 211.6L368.3 208.6L369.0 211.6L373.4 211.0L373.9 207.9L374.2 214.2L374.2 214.2C375.1 214.2 376.9 213.9 379.4 214.0C381.9 214.1 386.0 214.5 389.3 214.6C392.6 214.7 395.9 214.8 399.2 214.5C402.5 214.2 405.7 213.8 409.0 213.1C412.3 212.4 416.1 211.4 418.9 210.6C421.7 209.8 424.8 208.8 426.0 208.4L426.0 208.4L426.7 190.8L427.2 207.9L427.2 207.9C428.1 207.5 430.6 206.6 432.7 205.6C434.8 204.6 436.4 203.6 440.0 201.8C443.6 200.1 450.1 197.3 454.4 195.1C458.7 192.8 462.3 190.4 465.7 188.3C469.1 186.2 472.1 184.3 474.8 182.6C477.6 180.9 481.0 179.0 482.2 178.3" stroke-width="1.5" stroke-dasharray="5.2 2.3"/>
<circle cx="320.4" cy="98.3" r="1.25" fill="#000" stroke="none"/>
</g>
<rect x="105.25" y="251.65" width="376.95" height="232.9" fill="none" stroke="#161616" stroke-width="0.95"/>
<path d="M117.25 244.25v14.8M117.25 477.15v14.8M157.8 244.25v14.8M157.8 477.15v14.8M198.35 244.25v14.8M198.35 477.15v14.8M238.9 244.25v14.8M238.9 477.15v14.8M279.45 244.25v14.8M279.45 477.15v14.8M320 244.25v14.8M320 477.15v14.8M360.55 244.25v14.8M360.55 477.15v14.8M401.1 244.25v14.8M401.1 477.15v14.8M441.65 244.25v14.8M441.65 477.15v14.8M482.2 244.25v14.8M482.2 477.15v14.8M97.85 467.91h14.8M474.8 467.91h14.8M97.85 434.64h14.8M474.8 434.64h14.8M97.85 401.37h14.8M474.8 401.37h14.8M97.85 368.1h14.8M474.8 368.1h14.8M97.85 334.83h14.8M474.8 334.83h14.8M97.85 301.56h14.8M474.8 301.56h14.8M97.85 268.29h14.8M474.8 268.29h14.8" stroke="#161616" stroke-width="0.95" fill="none"/>
<text x="71.5" y="477.21" text-anchor="end" class="tl">10</text><path d="M72.1 466.51H79.6" stroke="#111" stroke-width="0.95"/><text x="94.8" y="469.71" text-anchor="end" class="sup">24</text>
<text x="71.5" y="443.94" text-anchor="end" class="tl">10</text><path d="M72.1 433.24H79.6" stroke="#111" stroke-width="0.95"/><text x="94.8" y="436.44" text-anchor="end" class="sup">22</text>
<text x="71.5" y="410.67" text-anchor="end" class="tl">10</text><path d="M72.1 399.97H79.6" stroke="#111" stroke-width="0.95"/><text x="94.8" y="403.17" text-anchor="end" class="sup">20</text>
<text x="71.5" y="377.4" text-anchor="end" class="tl">10</text><path d="M72.1 366.7H79.6" stroke="#111" stroke-width="0.95"/><text x="94.8" y="369.9" text-anchor="end" class="sup">18</text>
<text x="71.5" y="344.13" text-anchor="end" class="tl">10</text><path d="M72.1 333.43H79.6" stroke="#111" stroke-width="0.95"/><text x="94.8" y="336.63" text-anchor="end" class="sup">16</text>
<text x="71.5" y="310.86" text-anchor="end" class="tl">10</text><path d="M72.1 300.16H79.6" stroke="#111" stroke-width="0.95"/><text x="94.8" y="303.36" text-anchor="end" class="sup">14</text>
<text x="71.5" y="277.59" text-anchor="end" class="tl">10</text><path d="M72.1 266.89H79.6" stroke="#111" stroke-width="0.95"/><text x="94.8" y="270.09" text-anchor="end" class="sup">12</text>
<text transform="translate(40.8,367.6) rotate(-90)" text-anchor="middle" class="hc"><tspan font-style="italic">h</tspan><tspan class="sub" dy="3" font-style="italic">c</tspan></text>
<text x="136.0" y="268.35" class="bl" fill="#E07B66" fill-opacity="0.75">10<tspan class="bsup" dy="-4.1">−19</tspan></text>
<text x="177.4" y="282.55" class="bl" fill="#8f8f8f" fill-opacity="0.75">10<tspan class="bsup" dy="-4.1">−18</tspan></text>
<text x="214.8" y="299.05" class="bl" fill="#8B0000" fill-opacity="0.75">10<tspan class="bsup" dy="-4.1">−17</tspan></text>
<text x="260.2" y="312.85" class="bl" fill="#CC0AAE" fill-opacity="0.75">10<tspan class="bsup" dy="-4.1">−16</tspan></text>
<text x="301.6" y="329.45" class="bl" fill="#1B5A9A" fill-opacity="0.75">10<tspan class="bsup" dy="-4.1">−15</tspan></text>
<text x="339.7" y="350.05" class="bl" fill="#2EA374" fill-opacity="0.75">10<tspan class="bsup" dy="-4.1">−14</tspan></text>
<text x="380.3" y="364.65" class="bl" fill="#FFA500" fill-opacity="0.75">10<tspan class="bsup" dy="-4.1">−13</tspan></text>
<text x="422.2" y="380.55" class="bl" fill="#1B5A9A" fill-opacity="0.75">10<tspan class="bsup" dy="-4.1">−12</tspan></text>
<text x="456.3" y="399.35" class="bl" fill="#DC143C" fill-opacity="0.75">10<tspan class="bsup" dy="-4.1">−11</tspan></text>
<text x="150.6" y="364.55" class="nm">LISA</text>
<text x="290.0" y="466.55" class="nm" style="font-size:13.5px">Decigo</text>
<text x="436.0" y="416.15" class="nm">LIGO</text>
<text x="450.8" y="452.85" class="nm">ET</text>
<text x="423.6" y="280.85" class="sp"><tspan letter-spacing="0.3">spin</tspan><tspan dx="0.8" style="font-size:15px">–</tspan><tspan dx="0.9" style="font-size:12.2px">1</tspan></text>
<g clip-path="url(#c2)">
<g stroke="#E07B66" stroke-opacity="0.6" stroke-width="1.1"><path d="M145.01 729.3V506.42"/><path d="M140.35 729.3V547.19"/><path d="M136.67 729.3V551.59"/><path d="M133.63 729.3V553.92"/><path d="M131.03 729.3V555.41"/><path d="M128.77 729.3V556.47"/><path d="M126.77 729.3V557.27"/><path d="M124.97 729.3V557.89"/><path d="M123.34 729.3V558.39"/><path d="M121.85 729.3V558.81"/><path d="M120.47 729.3V559.16"/><path d="M119.2 729.3V559.46"/><path d="M118.01 729.3V559.72"/><path d="M116.89 729.3V559.95"/><path d="M115.84 729.3V560.15"/><path d="M114.86 729.3V560.33"/><path d="M113.92 729.3V560.5"/><path d="M113.03 729.3V560.65"/><path d="M112.18 729.3V560.78"/><path d="M111.37 729.3V560.9"/><path d="M110.6 729.3V561.02"/><path d="M109.86 729.3V561.12"/><path d="M109.15 729.3V561.22"/><path d="M108.47 729.3V561.31"/><path d="M107.81 729.3V561.4"/><path d="M107.18 729.3V561.48"/><path d="M106.57 729.3V561.55"/><path d="M105.98 729.3V561.62"/><path d="M105.4 729.3V561.69"/><path d="M104.85 729.3V561.75"/><path d="M104.31 729.3V561.81"/><path d="M103.79 729.3V561.86"/><path d="M103.29 729.3V561.92"/><path d="M102.8 729.3V561.97"/></g>
<g stroke="#8f8f8f" stroke-opacity="0.6" stroke-width="1.1"><path d="M185.56 729.3V523.06"/><path d="M180.9 729.3V563.83"/><path d="M177.22 729.3V568.23"/><path d="M174.18 729.3V570.56"/><path d="M171.58 729.3V572.05"/><path d="M169.32 729.3V573.11"/><path d="M167.32 729.3V573.91"/><path d="M165.52 729.3V574.53"/><path d="M163.89 729.3V575.03"/><path d="M162.4 729.3V575.45"/><path d="M161.02 729.3V575.8"/><path d="M159.75 729.3V576.1"/><path d="M158.56 729.3V576.36"/><path d="M157.44 729.3V576.59"/><path d="M156.39 729.3V576.79"/><path d="M155.41 729.3V576.97"/><path d="M154.47 729.3V577.14"/><path d="M153.58 729.3V577.29"/><path d="M152.73 729.3V577.42"/><path d="M151.92 729.3V577.54"/><path d="M151.15 729.3V577.66"/><path d="M150.41 729.3V577.76"/><path d="M149.7 729.3V577.86"/><path d="M149.02 729.3V577.95"/><path d="M148.36 729.3V578.04"/><path d="M147.73 729.3V578.12"/><path d="M147.12 729.3V578.19"/><path d="M146.53 729.3V578.26"/><path d="M145.95 729.3V578.33"/><path d="M145.4 729.3V578.39"/><path d="M144.86 729.3V578.45"/><path d="M144.34 729.3V578.5"/><path d="M143.84 729.3V578.56"/><path d="M143.35 729.3V578.61"/></g>
<g stroke="#8B0000" stroke-opacity="0.6" stroke-width="1.1"><path d="M226.11 729.3V539.7"/><path d="M221.45 729.3V580.47"/><path d="M217.77 729.3V584.87"/><path d="M214.73 729.3V587.2"/><path d="M212.13 729.3V588.69"/><path d="M209.87 729.3V589.75"/><path d="M207.87 729.3V590.55"/><path d="M206.07 729.3V591.17"/><path d="M204.44 729.3V591.67"/><path d="M202.95 729.3V592.09"/><path d="M201.57 729.3V592.44"/><path d="M200.3 729.3V592.74"/><path d="M199.11 729.3V593"/><path d="M197.99 729.3V593.23"/><path d="M196.94 729.3V593.43"/><path d="M195.96 729.3V593.61"/><path d="M195.02 729.3V593.78"/><path d="M194.13 729.3V593.93"/><path d="M193.28 729.3V594.06"/><path d="M192.47 729.3V594.18"/><path d="M191.7 729.3V594.3"/><path d="M190.96 729.3V594.4"/><path d="M190.25 729.3V594.5"/><path d="M189.57 729.3V594.59"/><path d="M188.91 729.3V594.68"/><path d="M188.28 729.3V594.76"/><path d="M187.67 729.3V594.83"/><path d="M187.08 729.3V594.9"/><path d="M186.5 729.3V594.97"/><path d="M185.95 729.3V595.03"/><path d="M185.41 729.3V595.09"/><path d="M184.89 729.3V595.14"/><path d="M184.39 729.3V595.2"/><path d="M183.9 729.3V595.25"/></g>
<g stroke="#CC0AAE" stroke-opacity="0.6" stroke-width="1.1"><path d="M266.66 729.3V556.34"/><path d="M262 729.3V597.11"/><path d="M258.32 729.3V601.51"/><path d="M255.28 729.3V603.84"/><path d="M252.68 729.3V605.33"/><path d="M250.42 729.3V606.39"/><path d="M248.42 729.3V607.19"/><path d="M246.62 729.3V607.81"/><path d="M244.99 729.3V608.31"/><path d="M243.5 729.3V608.73"/><path d="M242.12 729.3V609.08"/><path d="M240.85 729.3V609.38"/><path d="M239.66 729.3V609.64"/><path d="M238.54 729.3V609.87"/><path d="M237.49 729.3V610.07"/><path d="M236.51 729.3V610.25"/><path d="M235.57 729.3V610.42"/><path d="M234.68 729.3V610.57"/><path d="M233.83 729.3V610.7"/><path d="M233.02 729.3V610.82"/><path d="M232.25 729.3V610.94"/><path d="M231.51 729.3V611.04"/><path d="M230.8 729.3V611.14"/><path d="M230.12 729.3V611.23"/><path d="M229.46 729.3V611.32"/><path d="M228.83 729.3V611.4"/><path d="M228.22 729.3V611.47"/><path d="M227.63 729.3V611.54"/><path d="M227.05 729.3V611.61"/><path d="M226.5 729.3V611.67"/><path d="M225.96 729.3V611.73"/><path d="M225.44 729.3V611.78"/><path d="M224.94 729.3V611.84"/><path d="M224.45 729.3V611.89"/></g>
<g stroke="#1B5A9A" stroke-opacity="0.6" stroke-width="1.1"><path d="M307.21 729.3V572.98"/><path d="M302.55 729.3V613.75"/><path d="M298.87 729.3V618.15"/><path d="M295.83 729.3V620.48"/><path d="M293.23 729.3V621.97"/><path d="M290.97 729.3V623.03"/><path d="M288.97 729.3V623.83"/><path d="M287.17 729.3V624.45"/><path d="M285.54 729.3V624.95"/><path d="M284.05 729.3V625.37"/><path d="M282.67 729.3V625.72"/><path d="M281.4 729.3V626.02"/><path d="M280.21 729.3V626.28"/><path d="M279.09 729.3V626.51"/><path d="M278.04 729.3V626.71"/><path d="M277.06 729.3V626.89"/><path d="M276.12 729.3V627.06"/><path d="M275.23 729.3V627.21"/><path d="M274.38 729.3V627.34"/><path d="M273.57 729.3V627.46"/><path d="M272.8 729.3V627.58"/><path d="M272.06 729.3V627.68"/><path d="M271.35 729.3V627.78"/><path d="M270.67 729.3V627.87"/><path d="M270.01 729.3V627.96"/><path d="M269.38 729.3V628.04"/><path d="M268.77 729.3V628.11"/><path d="M268.18 729.3V628.18"/><path d="M267.6 729.3V628.25"/><path d="M267.05 729.3V628.31"/><path d="M266.51 729.3V628.37"/><path d="M265.99 729.3V628.42"/><path d="M265.49 729.3V628.48"/><path d="M265 729.3V628.53"/></g>
<g stroke="#2EA374" stroke-opacity="0.6" stroke-width="1.1"><path d="M347.76 729.3V589.62"/><path d="M343.1 729.3V630.39"/><path d="M339.42 729.3V634.79"/><path d="M336.38 729.3V637.12"/><path d="M333.78 729.3V638.61"/><path d="M331.52 729.3V639.67"/><path d="M329.52 729.3V640.47"/><path d="M327.72 729.3V641.09"/><path d="M326.09 729.3V641.59"/><path d="M324.6 729.3V642.01"/><path d="M323.22 729.3V642.36"/><path d="M321.95 729.3V642.66"/><path d="M320.76 729.3V642.92"/><path d="M319.64 729.3V643.15"/><path d="M318.59 729.3V643.35"/><path d="M317.61 729.3V643.53"/><path d="M316.67 729.3V643.7"/><path d="M315.78 729.3V643.85"/><path d="M314.93 729.3V643.98"/><path d="M314.12 729.3V644.1"/><path d="M313.35 729.3V644.22"/><path d="M312.61 729.3V644.32"/><path d="M311.9 729.3V644.42"/><path d="M311.22 729.3V644.51"/><path d="M310.56 729.3V644.6"/><path d="M309.93 729.3V644.68"/><path d="M309.32 729.3V644.75"/><path d="M308.73 729.3V644.82"/><path d="M308.15 729.3V644.89"/><path d="M307.6 729.3V644.95"/><path d="M307.06 729.3V645.01"/><path d="M306.54 729.3V645.06"/><path d="M306.04 729.3V645.12"/><path d="M305.55 729.3V645.17"/></g>
<g stroke="#FFA500" stroke-opacity="0.6" stroke-width="1.1"><path d="M388.31 729.3V606.26"/><path d="M383.65 729.3V647.03"/><path d="M379.97 729.3V651.43"/><path d="M376.93 729.3V653.76"/><path d="M374.33 729.3V655.25"/><path d="M372.07 729.3V656.31"/><path d="M370.07 729.3V657.11"/><path d="M368.27 729.3V657.73"/><path d="M366.64 729.3V658.23"/><path d="M365.15 729.3V658.65"/><path d="M363.77 729.3V659"/><path d="M362.5 729.3V659.3"/><path d="M361.31 729.3V659.56"/><path d="M360.19 729.3V659.79"/><path d="M359.14 729.3V659.99"/><path d="M358.16 729.3V660.17"/><path d="M357.22 729.3V660.34"/><path d="M356.33 729.3V660.49"/><path d="M355.48 729.3V660.62"/><path d="M354.67 729.3V660.74"/><path d="M353.9 729.3V660.86"/><path d="M353.16 729.3V660.96"/><path d="M352.45 729.3V661.06"/><path d="M351.77 729.3V661.15"/><path d="M351.11 729.3V661.24"/><path d="M350.48 729.3V661.32"/><path d="M349.87 729.3V661.39"/><path d="M349.28 729.3V661.46"/><path d="M348.7 729.3V661.53"/><path d="M348.15 729.3V661.59"/><path d="M347.61 729.3V661.65"/><path d="M347.09 729.3V661.7"/><path d="M346.59 729.3V661.76"/><path d="M346.1 729.3V661.81"/></g>
<g stroke="#1B5A9A" stroke-opacity="0.6" stroke-width="1.1"><path d="M428.86 729.3V622.9"/><path d="M424.2 729.3V663.67"/><path d="M420.52 729.3V668.07"/><path d="M417.48 729.3V670.4"/><path d="M414.88 729.3V671.89"/><path d="M412.62 729.3V672.95"/><path d="M410.62 729.3V673.75"/><path d="M408.82 729.3V674.37"/><path d="M407.19 729.3V674.87"/><path d="M405.7 729.3V675.29"/><path d="M404.32 729.3V675.64"/><path d="M403.05 729.3V675.94"/><path d="M401.86 729.3V676.2"/><path d="M400.74 729.3V676.43"/><path d="M399.69 729.3V676.63"/><path d="M398.71 729.3V676.81"/><path d="M397.77 729.3V676.98"/><path d="M396.88 729.3V677.13"/><path d="M396.03 729.3V677.26"/><path d="M395.22 729.3V677.38"/><path d="M394.45 729.3V677.5"/><path d="M393.71 729.3V677.6"/><path d="M393 729.3V677.7"/><path d="M392.32 729.3V677.79"/><path d="M391.66 729.3V677.88"/><path d="M391.03 729.3V677.96"/><path d="M390.42 729.3V678.03"/><path d="M389.83 729.3V678.1"/><path d="M389.25 729.3V678.17"/><path d="M388.7 729.3V678.23"/><path d="M388.16 729.3V678.29"/><path d="M387.64 729.3V678.34"/><path d="M387.14 729.3V678.4"/><path d="M386.65 729.3V678.45"/></g>
<g stroke="#DC143C" stroke-opacity="0.6" stroke-width="1.1"><path d="M469.41 729.3V639.54"/><path d="M464.75 729.3V680.31"/><path d="M461.07 729.3V684.71"/><path d="M458.03 729.3V687.04"/><path d="M455.43 729.3V688.53"/><path d="M453.17 729.3V689.59"/><path d="M451.17 729.3V690.39"/><path d="M449.37 729.3V691.01"/><path d="M447.74 729.3V691.51"/><path d="M446.25 729.3V691.93"/><path d="M444.87 729.3V692.28"/><path d="M443.6 729.3V692.58"/><path d="M442.41 729.3V692.84"/><path d="M441.29 729.3V693.07"/><path d="M440.24 729.3V693.27"/><path d="M439.26 729.3V693.45"/><path d="M438.32 729.3V693.62"/><path d="M437.43 729.3V693.77"/><path d="M436.58 729.3V693.9"/><path d="M435.77 729.3V694.02"/><path d="M435 729.3V694.14"/><path d="M434.26 729.3V694.24"/><path d="M433.55 729.3V694.34"/><path d="M432.87 729.3V694.43"/><path d="M432.21 729.3V694.52"/><path d="M431.58 729.3V694.6"/><path d="M430.97 729.3V694.67"/><path d="M430.38 729.3V694.74"/><path d="M429.8 729.3V694.81"/><path d="M429.25 729.3V694.87"/><path d="M428.71 729.3V694.93"/><path d="M428.19 729.3V694.98"/><path d="M427.69 729.3V695.04"/><path d="M427.2 729.3V695.09"/></g>
</g>
<g clip-path="url(#d2)" fill="none" stroke-linecap="butt" stroke-linejoin="round">
<path d="M108.3 708.5C108.6 707.5 109.5 707.8 109.9 702.5C110.3 697.2 110.7 686.1 110.8 676.9C110.9 667.7 110.7 654.9 110.8 647.3C110.9 639.7 111.0 635.8 111.4 631.5C111.8 627.2 112.5 624.5 113.4 621.7C114.3 618.9 115.4 616.8 116.8 614.8C118.2 612.8 119.6 610.8 121.7 609.4C123.8 608.0 127.0 606.9 129.6 606.3C132.2 605.7 134.9 605.5 137.5 605.9C140.1 606.3 143.8 608.3 145.0 608.8" stroke="#E07B66" stroke-width="2.5"/>
<path d="M149.3 666.0C149.6 664.9 150.5 661.9 150.9 659.1C151.3 656.3 151.4 652.4 151.7 649.3C152.0 646.2 152.3 643.0 152.9 640.4C153.5 637.8 154.1 635.4 155.2 633.5C156.2 631.6 157.5 630.2 159.2 629.2C160.8 628.2 162.8 627.9 165.1 627.6C167.4 627.3 170.4 627.3 173.0 627.6C175.6 627.9 178.9 628.5 180.9 629.2C182.9 629.9 184.5 631.5 185.2 631.9" stroke="#8f8f8f" stroke-width="2.5"/>
<path d="M189.2 679.9C189.3 678.4 189.4 674.0 189.7 671.0C190.0 668.0 190.4 664.9 191.1 662.1C191.8 659.3 192.8 656.2 193.9 654.2C195.0 652.2 196.4 651.0 197.9 650.3C199.4 649.5 200.8 649.6 202.8 649.7C204.8 649.8 207.2 650.4 209.7 650.9C212.2 651.4 215.5 652.1 217.6 652.8C219.7 653.4 221.1 654.0 222.5 654.8C223.9 655.6 225.3 657.1 225.9 657.6" stroke="#8B0000" stroke-width="2.5"/>
<path d="M229.8 680.4C230.1 679.5 230.6 676.4 231.4 674.9C232.2 673.4 233.1 672.4 234.4 671.4C235.7 670.4 237.2 669.5 239.3 669.0C241.4 668.5 244.6 668.3 247.2 668.4C249.8 668.5 252.6 668.9 255.1 669.4C257.6 669.9 260.1 670.5 262.0 671.4C263.9 672.2 265.8 674.0 266.5 674.5" stroke="#CC0AAE" stroke-width="2.5"/>
<path d="M269.9 689.1C270.2 688.5 270.9 686.7 271.9 685.8C272.9 684.9 274.0 684.3 275.8 683.8C277.6 683.3 280.4 683.0 282.7 682.8C285.0 682.6 287.4 682.4 289.9 682.4C292.4 682.4 295.7 682.6 297.8 682.8C299.9 683.0 301.5 683.3 302.7 683.8C303.9 684.3 304.4 684.1 305.0 685.8C305.6 687.4 306.3 692.4 306.6 693.7" stroke="#1B5A9A" stroke-width="2.5"/>
<path d="M340.2 716.0C341.0 714.8 343.3 711.1 345.1 708.5C346.9 705.9 349.0 703.0 351.0 700.6C353.0 698.2 354.9 695.8 356.9 694.1C358.9 692.4 361.0 691.1 362.8 690.3C364.6 689.5 366.2 689.0 367.8 689.1C369.4 689.2 370.7 690.0 372.7 691.1C374.7 692.2 377.4 693.9 380.0 695.6C382.6 697.3 387.2 700.3 388.6 701.2" stroke="#FFA500" stroke-width="2.5"/>
<path d="M380.7 729.8C382.0 727.7 386.2 720.7 388.6 717.1C391.1 713.5 393.1 710.5 395.4 708.0C397.7 705.5 400.1 703.4 402.2 701.9C404.3 700.4 406.4 699.5 407.9 698.9C409.4 698.3 410.0 698.3 411.3 698.5C412.6 698.7 413.9 698.9 415.8 700.1C417.7 701.3 420.5 704.1 422.6 705.7C424.7 707.3 427.4 709.1 428.3 709.8" stroke="#1B5A9A" stroke-width="2.5"/>
<path d="M442.0 729.8C442.7 729.3 444.5 727.7 446.0 726.8C447.5 725.9 449.2 724.7 451.0 724.6C452.8 724.5 454.6 725.5 456.5 726.4C458.4 727.3 461.5 729.2 462.5 729.8" stroke="#DC143C" stroke-width="2.5"/>
</g>
<g transform="translate(0,487.5)" fill="none" stroke="#000">
<path d="M105.2 76.6C108.3 79.6 118.5 89.5 123.7 94.6C128.9 99.7 132.6 103.4 136.5 107.3C140.4 111.2 143.5 114.2 147.3 118.2C151.1 122.2 155.6 127.8 159.2 131.6C162.8 135.4 165.9 138.4 169.0 141.0C172.1 143.6 175.1 145.5 177.9 147.3C180.7 149.1 183.2 150.5 185.8 152.0C188.4 153.5 191.5 155.1 193.7 156.2C195.9 157.3 197.3 157.6 199.0 158.8C200.7 160.0 202.4 161.8 203.8 163.2C205.2 164.6 206.3 165.9 207.5 167.2C208.7 168.5 209.6 169.9 211.0 171.0C212.4 172.1 214.1 173.2 215.7 174.0C217.3 174.8 218.9 175.2 220.5 175.5C222.1 175.8 223.7 175.9 225.2 175.9C226.7 175.9 228.1 175.8 229.4 175.6C230.7 175.4 231.2 175.4 233.1 175.0C235.0 174.6 238.2 173.8 241.0 173.0C243.8 172.2 247.0 171.3 250.0 170.2C253.0 169.1 255.8 167.7 259.0 166.3C262.1 164.9 265.6 163.3 268.9 161.6C272.2 159.9 275.3 158.2 278.8 156.2C282.3 154.2 286.5 151.7 290.0 149.5C293.5 147.3 294.6 146.4 299.7 143.0C304.8 139.6 317.3 131.6 320.8 129.3" stroke-width="1.9"/>
<path d="M360.0 141.4C360.0 143.7 360.0 151.1 360.0 155.0C360.0 158.9 360.0 162.3 360.1 165.0C360.1 167.7 360.0 169.3 360.1 171.4C360.2 173.5 360.4 175.5 360.6 177.3C360.9 179.1 361.0 180.6 361.8 182.1C362.6 183.6 364.0 184.9 365.4 186.2C366.8 187.5 368.3 188.6 370.1 189.8C371.9 191.0 374.0 192.3 376.0 193.3C378.0 194.3 380.0 195.0 382.0 195.7C384.0 196.4 385.3 196.9 387.9 197.3C390.4 197.7 393.8 198.0 397.3 198.0C400.8 198.0 405.4 197.6 409.0 197.2C412.6 196.8 415.6 196.2 418.9 195.4C422.2 194.6 425.5 193.5 428.8 192.3C432.1 191.1 435.0 190.0 438.5 188.3C442.0 186.6 446.0 184.3 449.8 182.1C453.6 179.9 457.9 177.3 461.2 175.3C464.5 173.3 468.4 171.0 469.8 170.1" stroke-width="1.9"/>
<path d="M238.3 193.4C240.1 194.5 245.8 197.8 249.2 199.9C252.6 202.0 255.7 203.8 259.0 205.8C262.3 207.8 265.6 209.7 268.9 211.7C272.2 213.7 276.0 215.9 278.8 217.7C281.6 219.5 283.7 221.1 285.9 222.4C288.1 223.8 289.5 224.9 291.8 225.8C294.1 226.7 297.1 227.6 299.7 227.9C302.3 228.2 304.3 228.2 307.6 227.9C310.9 227.6 315.8 226.7 319.4 226.0C323.0 225.3 326.0 224.4 329.3 223.6C332.6 222.8 335.8 221.8 339.2 220.9C342.6 220.0 346.5 219.2 349.9 218.2C353.3 217.1 356.4 216.0 359.7 214.6C363.0 213.2 366.3 211.5 369.6 209.6C372.9 207.7 376.1 205.5 379.4 203.4C382.7 201.3 385.7 199.2 389.3 196.9C392.9 194.6 399.1 190.9 401.1 189.7" stroke-width="1.5" stroke-dasharray="5.2 2.3"/>
<path d="M320.4 98.0C320.6 99.4 321.4 103.5 321.9 106.3C322.4 109.1 322.8 112.5 323.2 115.0C323.6 117.5 324.1 120.2 324.3 121.2L324.3 121.2L326.2 123.9L325.3 127.0L325.3 127.0C325.4 128.1 325.5 130.0 325.8 133.7C326.1 137.4 326.5 144.2 326.9 149.4C327.2 154.7 327.5 160.8 327.9 165.2C328.3 169.5 328.6 172.4 329.1 175.5C329.7 178.6 330.2 181.2 331.2 184.0C332.2 186.8 333.2 188.8 335.0 192.0C336.8 195.2 340.0 200.0 342.1 203.0C344.2 206.0 345.9 207.9 347.9 209.8C349.8 211.7 351.8 213.7 353.8 214.6C355.8 215.5 358.1 215.4 359.7 215.3C361.3 215.2 362.2 214.6 363.5 214.0C364.8 213.4 366.9 212.0 367.6 211.6L367.6 211.6L368.3 208.6L369.0 211.6L373.4 211.0L373.9 207.9L374.2 214.2L374.2 214.2C375.1 214.2 376.9 213.9 379.4 214.0C381.9 214.1 386.0 214.5 389.3 214.6C392.6 214.7 395.9 214.8 399.2 214.5C402.5 214.2 405.7 213.8 409.0 213.1C412.3 212.4 416.1 211.4 418.9 210.6C421.7 209.8 424.8 208.8 426.0 208.4L426.0 208.4L426.7 190.8L427.2 207.9L427.2 207.9C428.1 207.5 430.6 206.6 432.7 205.6C434.8 204.6 436.4 203.6 440.0 201.8C443.6 200.1 450.1 197.3 454.4 195.1C458.7 192.8 462.3 190.4 465.7 188.3C469.1 186.2 472.1 184.3 474.8 182.6C477.6 180.9 481.0 179.0 482.2 178.3" stroke-width="1.5" stroke-dasharray="5.2 2.3"/>
<circle cx="320.4" cy="98.3" r="1.25" fill="#000" stroke="none"/>
</g>
<rect x="105.25" y="495.4" width="376.95" height="232.9" fill="none" stroke="#161616" stroke-width="0.95"/>
<path d="M117.25 488v14.8M117.25 720.9v14.8M157.8 488v14.8M157.8 720.9v14.8M198.35 488v14.8M198.35 720.9v14.8M238.9 488v14.8M238.9 720.9v14.8M279.45 488v14.8M279.45 720.9v14.8M320 488v14.8M320 720.9v14.8M360.55 488v14.8M360.55 720.9v14.8M401.1 488v14.8M401.1 720.9v14.8M441.65 488v14.8M441.65 720.9v14.8M482.2 488v14.8M482.2 720.9v14.8M97.85 711.66h14.8M474.8 711.66h14.8M97.85 678.39h14.8M474.8 678.39h14.8M97.85 645.12h14.8M474.8 645.12h14.8M97.85 611.85h14.8M474.8 611.85h14.8M97.85 578.58h14.8M474.8 578.58h14.8M97.85 545.31h14.8M474.8 545.31h14.8M97.85 512.04h14.8M474.8 512.04h14.8" stroke="#161616" stroke-width="0.95" fill="none"/>
<text x="71.5" y="720.96" text-anchor="end" class="tl">10</text><path d="M72.1 710.26H79.6" stroke="#111" stroke-width="0.95"/><text x="94.8" y="713.46" text-anchor="end" class="sup">24</text>
<text x="71.5" y="687.69" text-anchor="end" class="tl">10</text><path d="M72.1 676.99H79.6" stroke="#111" stroke-width="0.95"/><text x="94.8" y="680.19" text-anchor="end" class="sup">22</text>
<text x="71.5" y="654.42" text-anchor="end" class="tl">10</text><path d="M72.1 643.72H79.6" stroke="#111" stroke-width="0.95"/><text x="94.8" y="646.92" text-anchor="end" class="sup">20</text>
<text x="71.5" y="621.15" text-anchor="end" class="tl">10</text><path d="M72.1 610.45H79.6" stroke="#111" stroke-width="0.95"/><text x="94.8" y="613.65" text-anchor="end" class="sup">18</text>
<text x="71.5" y="587.88" text-anchor="end" class="tl">10</text><path d="M72.1 577.18H79.6" stroke="#111" stroke-width="0.95"/><text x="94.8" y="580.38" text-anchor="end" class="sup">16</text>
<text x="71.5" y="554.61" text-anchor="end" class="tl">10</text><path d="M72.1 543.91H79.6" stroke="#111" stroke-width="0.95"/><text x="94.8" y="547.11" text-anchor="end" class="sup">14</text>
<text x="71.5" y="521.34" text-anchor="end" class="tl">10</text><path d="M72.1 510.64H79.6" stroke="#111" stroke-width="0.95"/><text x="94.8" y="513.84" text-anchor="end" class="sup">12</text>
<text transform="translate(40.8,611.35) rotate(-90)" text-anchor="middle" class="hc"><tspan font-style="italic">h</tspan><tspan class="sub" dy="3" font-style="italic">c</tspan></text>
<text x="136.0" y="512.1" class="bl" fill="#E07B66" fill-opacity="0.75">10<tspan class="bsup" dy="-4.1">−19</tspan></text>
<text x="177.4" y="526.3" class="bl" fill="#8f8f8f" fill-opacity="0.75">10<tspan class="bsup" dy="-4.1">−18</tspan></text>
<text x="214.8" y="542.8" class="bl" fill="#8B0000" fill-opacity="0.75">10<tspan class="bsup" dy="-4.1">−17</tspan></text>
<text x="260.2" y="556.6" class="bl" fill="#CC0AAE" fill-opacity="0.75">10<tspan class="bsup" dy="-4.1">−16</tspan></text>
<text x="301.6" y="573.2" class="bl" fill="#1B5A9A" fill-opacity="0.75">10<tspan class="bsup" dy="-4.1">−15</tspan></text>
<text x="339.7" y="593.8" class="bl" fill="#2EA374" fill-opacity="0.75">10<tspan class="bsup" dy="-4.1">−14</tspan></text>
<text x="380.3" y="608.4" class="bl" fill="#FFA500" fill-opacity="0.75">10<tspan class="bsup" dy="-4.1">−13</tspan></text>
<text x="422.2" y="624.3" class="bl" fill="#1B5A9A" fill-opacity="0.75">10<tspan class="bsup" dy="-4.1">−12</tspan></text>
<text x="456.3" y="643.1" class="bl" fill="#DC143C" fill-opacity="0.75">10<tspan class="bsup" dy="-4.1">−11</tspan></text>
<text x="150.6" y="608.3" class="nm">LISA</text>
<text x="290.0" y="710.3" class="nm" style="font-size:13.5px">Decigo</text>
<text x="436.0" y="659.9" class="nm">LIGO</text>
<text x="450.8" y="696.6" class="nm">ET</text>
<text x="423.6" y="524.6" class="sp"><tspan letter-spacing="0.3">spin</tspan><tspan dx="0.8" style="font-size:15px">–</tspan><tspan dx="0.9" style="font-size:12.2px">2</tspan></text>
<text x="118.9" y="758.6" text-anchor="end" class="tl">10</text><path d="M119.65 747.7H128.05" stroke="#111" stroke-width="0.95"/><text x="128.45" y="751.6" class="sup">5</text>
<text x="159.45" y="758.6" text-anchor="end" class="tl">10</text><path d="M160.2 747.7H168.6" stroke="#111" stroke-width="0.95"/><text x="169" y="751.6" class="sup">4</text>
<text x="200" y="758.6" text-anchor="end" class="tl">10</text><path d="M200.75 747.7H209.15" stroke="#111" stroke-width="0.95"/><text x="209.55" y="751.6" class="sup">3</text>
<text x="240.55" y="758.6" text-anchor="end" class="tl">10</text><path d="M241.3 747.7H249.7" stroke="#111" stroke-width="0.95"/><text x="250.1" y="751.6" class="sup">2</text>
<text x="281.1" y="758.6" text-anchor="end" class="tl">10</text><path d="M281.85 747.7H290.25" stroke="#111" stroke-width="0.95"/><text x="290.65" y="751.6" class="sup">1</text>
<text x="326.3" y="758.6" text-anchor="end" class="tl">10</text><text x="326.4" y="751.6" class="sup">0</text>
<text x="366.85" y="758.6" text-anchor="end" class="tl">10</text><text x="366.95" y="751.6" class="sup">1</text>
<text x="407.4" y="758.6" text-anchor="end" class="tl">10</text><text x="407.5" y="751.6" class="sup">2</text>
<text x="447.95" y="758.6" text-anchor="end" class="tl">10</text><text x="448.05" y="751.6" class="sup">3</text>
<text x="488.5" y="758.6" text-anchor="end" class="tl">10</text><text x="488.6" y="751.6" class="sup">4</text>
<text x="293.5" y="789" text-anchor="middle" class="xl">f (Hz)</text>
</svg>
</div>
</body></html>
